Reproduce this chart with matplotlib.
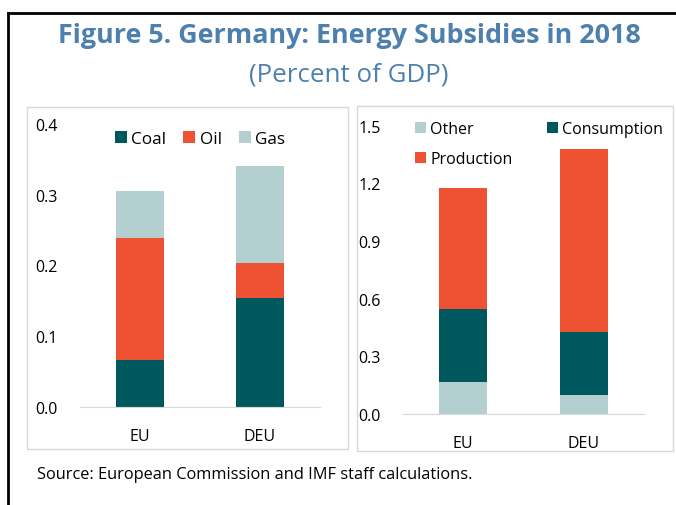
import numpy as np
import matplotlib
matplotlib.use("Agg")
import matplotlib.pyplot as plt
from matplotlib.patches import Rectangle
from matplotlib.lines import Line2D

plt.rcParams['font.family'] = ['Open Sans', 'DejaVu Sans']

# data
countries = ["EU", "DEU"]
coal = [0.067, 0.154]
oil = [0.172, 0.049]
gas = [0.066, 0.138]

other = [0.165, 0.100]
consumption = [0.383, 0.328]
production = [0.630, 0.949]

left_ticks = [0.0, 0.1, 0.2, 0.3, 0.4]
right_ticks = [0.0, 0.3, 0.6, 0.9, 1.2, 1.5]

teal = "#00585f"
orange = "#ef5133"
light = "#b4cfcf"
title_col = "#4d80ad"
box_col = "#d9d9d9"

W, H = 676, 506
fig = plt.figure(figsize=(W / 100, H / 100), dpi=100)


def fx(x):
    return x / W


def fy(y):
    return 1 - y / H


# black frame (top and left)
fig.add_artist(Line2D([fx(8), 1], [fy(14), fy(14)], color="black", lw=2))
fig.add_artist(Line2D([fx(8), fx(8)], [fy(14), 0], color="black", lw=2))

# panel boxes
for x0, y0, x1, y1 in [(27, 108, 348, 450), (357, 107, 673, 452)]:
    fig.add_artist(Rectangle((fx(x0), fy(y1)), fx(x1) - fx(x0), fy(y0) - fy(y1),
                             fill=False, edgecolor=box_col, lw=1))

fig.text(fx(349), fy(36), "Figure 5. Germany: Energy Subsidies in 2018",
         ha="center", va="center", fontsize=19.4, fontweight="bold", color=title_col)
fig.text(fx(349), fy(75), "(Percent of GDP)", ha="center", va="center",
         fontsize=18.6, color=title_col)
fig.text(fx(37), fy(475), "Source: European Commission and IMF staff calculations.",
         ha="left", va="center", fontsize=11.8, color="black")

x = np.arange(len(countries))
bw = 0.4


def style(ax, ticks):
    ax.set_xlim(-0.5, 1.5)
    ax.set_ylim(ticks[0], ticks[-1])
    ax.set_yticks(ticks)
    ax.set_yticklabels([f"{t:.1f}" for t in ticks])
    ax.set_xticks(x)
    ax.set_xticklabels(countries)
    for s in ["top", "right", "left"]:
        ax.spines[s].set_visible(False)
    ax.spines["bottom"].set_color(box_col)
    ax.tick_params(length=0, labelsize=11.5)
    ax.tick_params(axis="y", pad=16)
    ax.tick_params(axis="x", pad=15)
    ax.patch.set_alpha(0)


# left panel: by fuel
ax1 = fig.add_axes([fx(80), fy(408), fx(320) - fx(80), fy(125) - fy(408)])
b_coal = ax1.bar(x, coal, bw, color=teal, label="Coal")
b_oil = ax1.bar(x, oil, bw, bottom=coal, color=orange, label="Oil")
b_gas = ax1.bar(x, gas, bw, bottom=np.add(coal, oil), color=light, label="Gas")
style(ax1, left_ticks)
ax1.legend(handles=[b_coal, b_oil, b_gas], ncol=3, loc="upper center",
           bbox_to_anchor=(0.5, 1.03), frameon=False, fontsize=12.3,
           handlelength=0.7, handleheight=0.7, handletextpad=0.25, columnspacing=1.0)

# right panel: by type
ax2 = fig.add_axes([fx(403), fy(415), fx(644) - fx(403), fy(126.7) - fy(415)])
b_oth = ax2.bar(x, other, bw, color=light, label="Other")
b_con = ax2.bar(x, consumption, bw, bottom=other, color=teal, label="Consumption")
b_pro = ax2.bar(x, production, bw, bottom=np.add(other, consumption),
                color=orange, label="Production")
style(ax2, right_ticks)
ax2.legend(handles=[b_oth, b_pro, b_con], ncol=2, loc="upper left",
           bbox_to_anchor=(-0.01, 1.065), frameon=False, fontsize=11.5,
           handlelength=0.7, handleheight=0.7, handletextpad=0.25, columnspacing=2.15,
           labelspacing=0.85)

fig.savefig("out.png", dpi=100)
